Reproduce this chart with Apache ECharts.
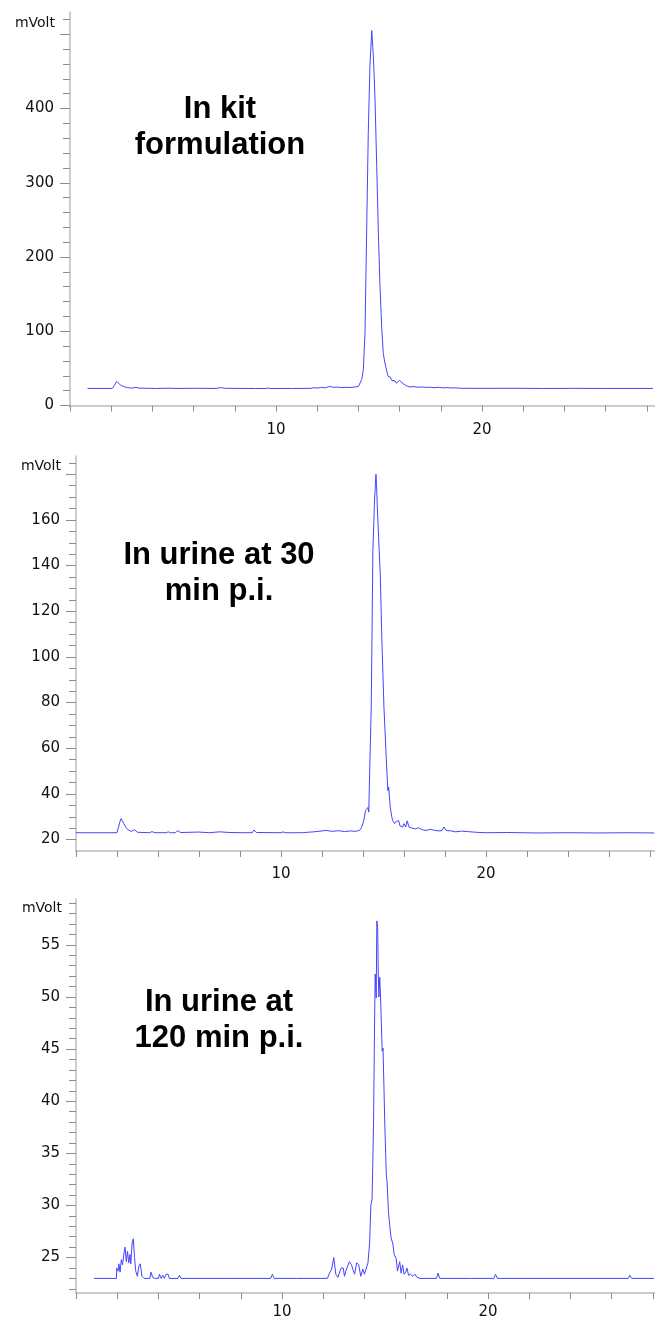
<!DOCTYPE html>
<html>
<head>
<meta charset="utf-8">
<script src="https://cdn.jsdelivr.net/npm/echarts@6/dist/echarts.min.js"></script>
<style>
html,body{margin:0;padding:0;background:#fff;}
#chart{width:655px;height:1322px;}
</style>
</head>
<body>
<div id="chart"></div>
<script>
// ---------- DATA ----------
const panelTitles = [["In kit", "formulation"], ["In urine at 30", "min p.i."], ["In urine at", "120 min p.i."]];
const yUnit = "mVolt";

// Panel 1: In kit formulation (time in min, signal in mVolt)
const kitTime = [0.85,2.05,2.15,2.27,2.35,2.45,2.6,2.8,3.0,3.2,3.35,3.8,4.2,4.8,5.2,6.0,7.1,7.3,7.5,8.4,9.0,9.5,9.6,9.7,10.8,11.7,11.8,12.0,12.2,12.4,12.6,12.8,13.0,13.2,13.4,13.6,13.8,14.0,14.08,14.16,14.24,14.32,14.40,14.48,14.56,14.65,14.70,14.73,14.81,14.89,14.97,15.05,15.13,15.21,15.27,15.33,15.40,15.45,15.52,15.55,15.61,15.70,15.78,15.85,15.92,16.0,16.05,16.12,16.2,16.3,16.4,16.5,16.7,16.9,17.1,17.3,17.5,17.7,17.9,18.1,18.3,18.5,18.7,19.0,20.0,21.5,23.0,24.5,26.0,28.3];
const kitMv = [23,23,27,32.5,30,27.5,25.5,24,23.5,24.5,23.4,23.2,23.0,23.3,23.0,23.2,23.0,24.2,23.2,23.0,22.9,22.9,23.5,22.9,23.0,23.1,24.0,23.5,24.3,23.8,25.8,24.4,24.8,24.0,24.6,24.2,24.9,25.5,27,35,48,97,232,367,457,505,482,470,411,322,232,160,106,70,60,52,44,39,37,38.5,34,32,33,30,31,34,32,30.5,28,27,26,25,25.4,24.6,25.0,24.3,24.6,24.0,24.5,23.8,24.2,23.6,23.8,23.2,23.1,23.2,23.0,23.1,23.0,23.0];

// Panel 2: In urine at 30 min p.i.
const urine30Time = [0,2.0,2.06,2.15,2.2,2.27,2.33,2.42,2.55,2.7,2.85,3.0,3.6,3.7,3.85,4.4,4.5,4.6,4.85,4.95,5.1,6.0,6.5,7.0,7.5,8.2,8.6,8.68,8.8,10.0,10.1,10.2,11.0,11.6,11.9,12.2,12.5,12.8,13.1,13.4,13.6,13.83,13.92,13.99,14.05,14.12,14.2,14.24,14.28,14.32,14.40,14.48,14.56,14.63,14.66,14.69,14.76,14.84,14.92,15.02,15.13,15.21,15.25,15.33,15.40,15.45,15.54,15.62,15.74,15.8,15.86,15.93,16.0,16.08,16.15,16.25,16.4,16.56,16.7,16.9,17.07,17.3,17.5,17.7,17.85,17.94,18.05,18.3,18.5,18.8,19.1,19.5,20.0,21.0,22.5,24.0,25.5,27.0,28.2];
const urine30Mv = [23,23,25,28,29.2,28.8,27,25.5,24.2,23.6,24.3,23.2,23.0,23.5,23.0,23.0,23.4,23.0,23.0,23.9,23.1,23.3,23.0,23.4,23.1,23.0,23.0,24.2,23.1,23.0,23.4,23.0,23.0,23.4,23.7,24.0,23.6,23.9,23.5,23.8,23.6,24.0,25.2,26.9,29,32.7,33.5,34.1,32,48.7,78,146.5,168.4,180,175,167,152.3,136.3,107,78,56,41.4,43,34,30,28.3,27,28,28.3,26,26.5,25.5,27,25.5,28.2,25.4,25.0,24.7,25.2,24.3,24.0,24.5,24.0,23.8,23.9,25.5,24.0,23.8,23.4,23.7,23.5,23.2,23.0,23.1,22.9,23.0,22.9,23.0,22.9];

// Panel 3: In urine at 120 min p.i.
const urine120Time = [0.87,1.96,1.98,2.04,2.08,2.14,2.2,2.26,2.32,2.38,2.44,2.5,2.56,2.62,2.66,2.72,2.78,2.84,2.9,2.98,3.05,3.12,3.2,3.3,3.58,3.64,3.72,3.84,4.0,4.05,4.13,4.21,4.29,4.37,4.47,4.53,4.95,5.02,5.1,7.5,9.45,9.53,9.62,10.7,12.2,12.3,12.41,12.51,12.61,12.71,12.87,12.97,13.03,13.11,13.17,13.27,13.37,13.45,13.52,13.62,13.72,13.82,13.92,14.0,14.08,14.17,14.25,14.31,14.37,14.44,14.49,14.52,14.57,14.6,14.64,14.67,14.7,14.74,14.78,14.82,14.86,14.9,14.95,14.98,15.01,15.06,15.1,15.16,15.22,15.29,15.38,15.44,15.54,15.6,15.71,15.78,15.85,15.92,16.0,16.06,16.14,16.24,16.35,16.45,16.55,16.7,17.5,17.57,17.66,18.0,19.08,19.13,19.2,20.28,20.36,20.45,22.0,26.8,26.88,26.97,28.05];
const urine120Mv = [23.0,23.0,24.0,23.7,24.4,23.6,24.8,24.3,25.3,26.0,24.6,25.6,24.5,25.3,24.4,26.3,26.8,25.0,23.7,23.2,24.2,24.4,23.2,23.0,23.0,23.6,23.1,23.0,23.0,23.4,23.0,23.3,23.0,23.4,23.4,23.0,23.0,23.3,23.0,23.0,23.0,23.4,23.0,23.0,23.0,23.5,23.9,25.0,23.4,23.1,24.0,24.0,23.2,23.8,23.7,24.6,24.3,23.8,23.4,24.5,24.3,23.2,23.9,23.4,23.9,24.5,26.4,30.0,30.6,37.8,47.4,52.2,49.9,57.3,56.7,52.2,50.0,51.9,50.0,47.4,44.8,45.1,41.0,38.3,36.2,33.0,32.2,29.5,28.2,26.9,26.3,25.3,24.9,23.7,24.6,23.5,24.3,23.4,23.6,24.0,23.3,23.4,23.2,23.4,23.1,23.0,23.0,23.5,23.0,23.0,23.0,23.1,23.0,23.0,23.4,23.0,23.0,23.0,23.3,23.0,23.0];

// Axis ranges and ticks
const xRanges = [[0, 28.4], [0, 28.24], [0, 28.1]];
const xTickValues = [0,2,4,6,8,10,12,14,16,18,20,22,24,26,28];
const xLabelValues = [10, 20];
const yRanges = [[-2, 530], [15, 188], [21.6, 59.4]];
const yMajorTicks = [[0,100,200,300,400,500], [20,40,60,80,100,120,140,160,180], [25,30,35,40,45,50,55]];
const yLabelValues = [[0,100,200,300,400], [20,40,60,80,100,120,140,160], [25,30,35,40,45,50,55]];
const yMinorTicks = [
  [20,40,60,80,120,140,160,180,220,240,260,280,320,340,360,380,420,440,460,480,520],
  [25,30,35,45,50,55,65,70,75,85,90,95,105,110,115,125,130,135,145,150,155,165,170,175,185],
  [22,23,24,26,27,28,29,31,32,33,34,36,37,38,39,41,42,43,44,46,47,48,49,51,52,53,54,56,57,58,59]
];

// ---------- LAYOUT ----------
const grids = [
  {left: 70, top: 12, width: 585, height: 395},
  {left: 76, top: 456, width: 579, height: 395},
  {left: 76, top: 899, width: 579, height: 394}
];
const xLabelMargin = [16, 16, 12];
const unitPos = [[55, 23], [61, 466], [62, 908]];
const titleCenterX = [220, 219, 219];
const titleLineY = [[109, 145], [555, 591], [1002, 1038]];

const times = [kitTime, urine30Time, urine120Time];
const values = [kitMv, urine30Mv, urine120Mv];

const axisColor = '#bcbcbc';
const tickColor = '#8c8c8c';
const labelFont = 'DejaVu Sans';

const option = {
  animation: false,
  backgroundColor: '#ffffff',
  grid: grids.map(g => Object.assign({containLabel: false}, g)),
  xAxis: grids.map((g, i) => ({
    type: 'value', gridIndex: i, position: 'bottom', min: xRanges[i][0], max: xRanges[i][1],
    axisLine: {show: true, lineStyle: {color: axisColor, width: 1.5}},
    axisTick: {show: true, customValues: xTickValues, length: 6, lineStyle: {color: tickColor, width: 1}},
    axisLabel: {show: true, customValues: xLabelValues, fontSize: 15, color: '#111', margin: xLabelMargin[i], fontFamily: labelFont},
    splitLine: {show: false}
  })),
  yAxis: [].concat(...grids.map((g, i) => ([
    {
      type: 'value', gridIndex: i, position: 'left', offset: 0, min: yRanges[i][0], max: yRanges[i][1],
      axisLine: {show: true, lineStyle: {color: axisColor, width: 1.5}},
      axisTick: {show: true, customValues: yMajorTicks[i], length: 10, lineStyle: {color: tickColor, width: 1}},
      axisLabel: {show: true, customValues: yLabelValues[i], fontSize: 15, color: '#111', margin: 16, fontFamily: labelFont},
      splitLine: {show: false}
    },
    {
      type: 'value', gridIndex: i, position: 'left', offset: 0, min: yRanges[i][0], max: yRanges[i][1],
      axisLine: {show: true, lineStyle: {color: 'rgba(0,0,0,0)', width: 1}},
      axisTick: {show: true, customValues: yMinorTicks[i], length: 7, lineStyle: {color: tickColor, width: 1}},
      axisLabel: {show: false},
      splitLine: {show: false}
    }
  ]))),
  series: grids.map((g, i) => ({
    type: 'line', xAxisIndex: i, yAxisIndex: i * 2,
    showSymbol: false, symbol: 'none', smooth: false,
    lineStyle: {color: '#4444ff', width: 1},
    data: times[i].map((t, k) => [t, values[i][k]])
  })),
  graphic: [].concat(
    unitPos.map(p => ({
      type: 'text', x: p[0], y: p[1],
      style: {text: yUnit, fill: '#111', font: '14px "DejaVu Sans"', textAlign: 'right', textVerticalAlign: 'middle'}
    })),
    ...panelTitles.map((lines, i) => lines.map((s, j) => ({
      type: 'text', x: titleCenterX[i], y: titleLineY[i][j],
      style: {text: s, fill: '#000', font: 'bold 31px "Liberation Sans"', textAlign: 'center', textVerticalAlign: 'middle'}
    })))
  )
};

const chart = echarts.init(document.getElementById('chart'), null, {renderer: 'canvas'});
chart.setOption(option);
</script>
</body>
</html>
